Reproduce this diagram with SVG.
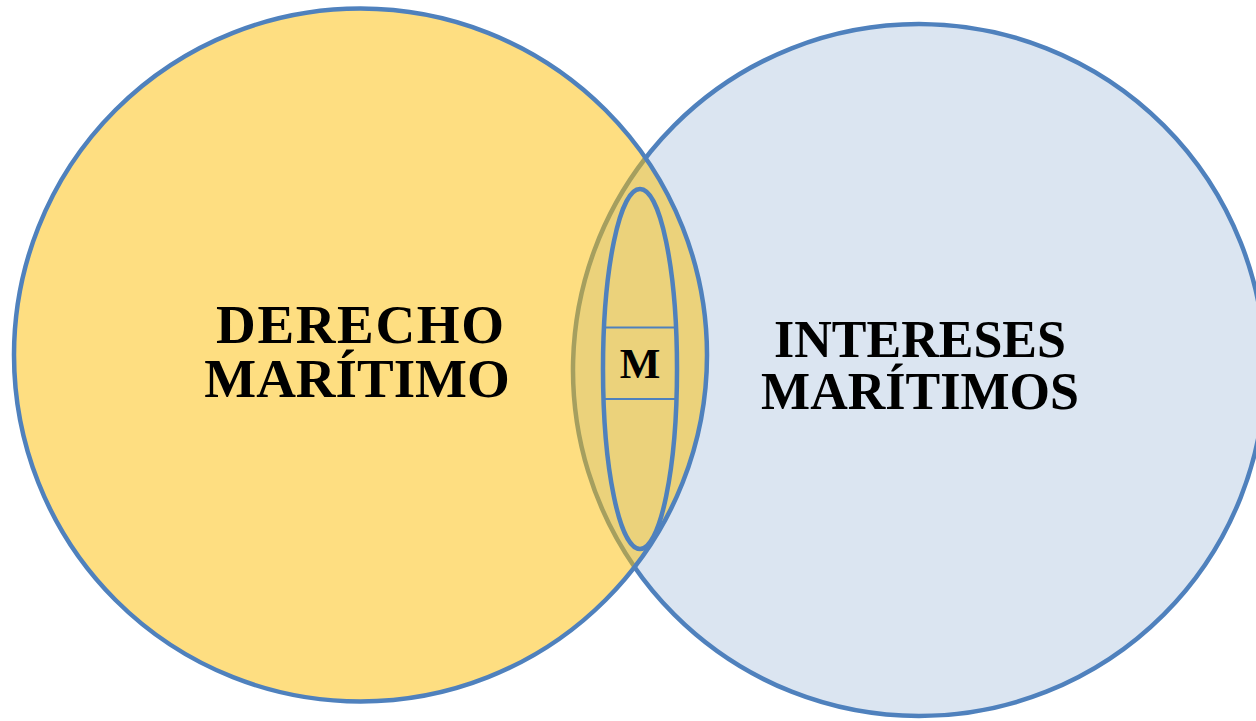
<svg xmlns="http://www.w3.org/2000/svg" width="1256" height="721" viewBox="0 0 1256 721">
  <style>
    .edge { fill: none; stroke: #4F81BD; stroke-width: 4.5; }
    .lbl { font-family: "Liberation Serif", "Times New Roman", serif; font-weight: bold; fill: #000000; text-anchor: middle; }
  </style>
  <rect x="0" y="0" width="1256" height="721" fill="#FFFFFF"/>
  <g id="intereses-maritimos">
    <circle cx="919" cy="370" r="346" class="edge" style="fill:#DBE5F1"/>
  </g>
  <g id="derecho-maritimo">
    <circle cx="360.5" cy="355" r="346.5" fill="#FEDE81" stroke="none"/>
  </g>
  <g id="overlap">
    <path d="M645.55,158 A346.5,346.5 0 0 1 634.57,567.02 A346,346 0 0 1 645.55,158 Z" fill="#EBD27B" stroke="none"/>
    <path d="M634.57,567.02 A346,346 0 0 1 645.55,158" fill="none" stroke="#A59F5F" stroke-width="4.5"/>
  </g>
  <g id="derecho-maritimo-border">
    <circle cx="360.5" cy="355" r="346.5" class="edge"/>
  </g>
  <g id="node-m">
    <ellipse cx="640" cy="369" rx="37" ry="180" class="edge" stroke-width="5"/>
    <line x1="604" y1="327.5" x2="676" y2="327.5" stroke="#4F81BD" stroke-width="2"/>
    <line x1="604" y1="399" x2="676" y2="399" stroke="#4F81BD" stroke-width="2"/>
    <text x="640" y="378" class="lbl" font-size="43">M</text>
  </g>
  <g id="labels">
    <text x="360" y="343" class="lbl" font-size="55" textLength="288" lengthAdjust="spacing">DERECHO</text>
    <text x="357" y="397" class="lbl" font-size="55">MARÍTIMO</text>
    <text x="920" y="357" class="lbl" font-size="52">INTERESES</text>
    <text x="920" y="409" class="lbl" font-size="52">MARÍTIMOS</text>
  </g>
  <g id="connectors"/>
</svg>
